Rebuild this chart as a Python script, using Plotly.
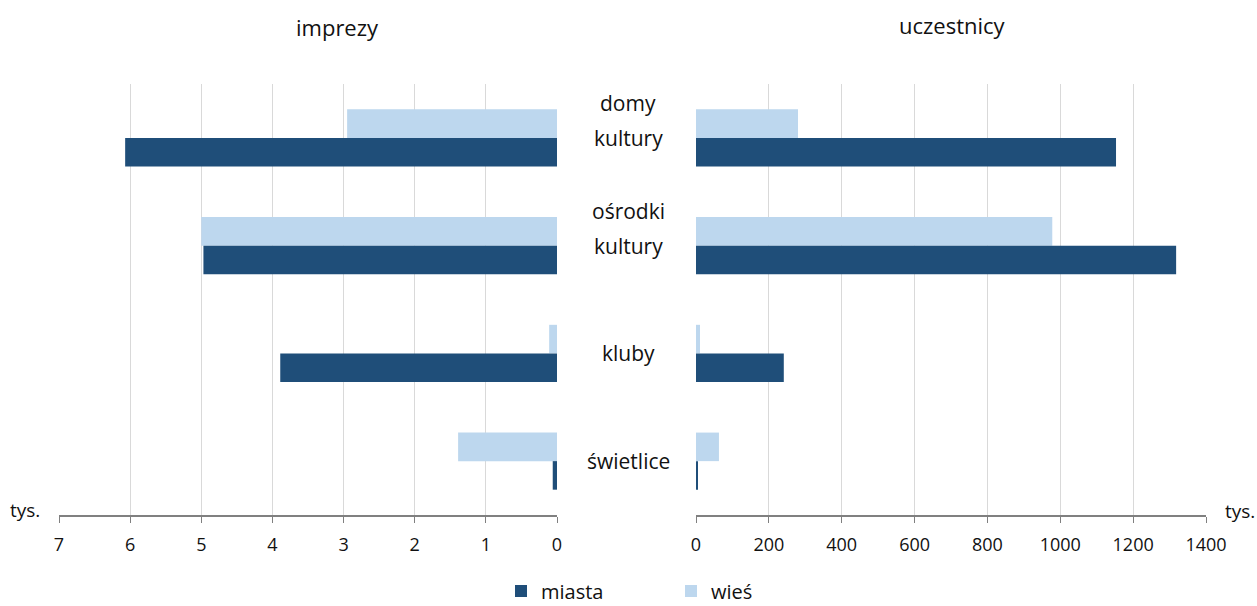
import plotly.graph_objects as go

categories = ["domy<br>kultury", "ośrodki<br>kultury", "kluby", "świetlice"]
series_names = ["miasta", "wieś"]
imprezy_miasta = [6.07, 4.97, 3.89, 0.06]
imprezy_wies = [2.95, 5.0, 0.11, 1.39]
uczestnicy_miasta = [1153, 1318, 241, 5]
uczestnicy_wies = [280, 978, 11, 63]
left_ticks = [7, 6, 5, 4, 3, 2, 1, 0]
right_ticks = [0, 200, 400, 600, 800, 1000, 1200, 1400]
panel_titles = ["imprezy", "uczestnicy"]
unit_label = "tys."

C_MIASTA = "#1F4E79"
C_WIES = "#BDD7EE"
FONT = "Open Sans"
TXT = "#111111"
W, H = 1257, 606

fig = go.Figure()
# wieś first so that it sits above miasta within each group (reversed y axis)
fig.add_trace(go.Bar(y=categories, x=imprezy_wies, orientation="h", name=series_names[1],
                     marker_color=C_WIES, xaxis="x", yaxis="y", legendrank=2))
fig.add_trace(go.Bar(y=categories, x=imprezy_miasta, orientation="h", name=series_names[0],
                     marker_color=C_MIASTA, xaxis="x", yaxis="y", legendrank=1))
fig.add_trace(go.Bar(y=categories, x=uczestnicy_wies, orientation="h", name=series_names[1],
                     marker_color=C_WIES, xaxis="x2", yaxis="y2", showlegend=False))
fig.add_trace(go.Bar(y=categories, x=uczestnicy_miasta, orientation="h", name=series_names[0],
                     marker_color=C_MIASTA, xaxis="x2", yaxis="y2", showlegend=False))

ydom = [(H - 515) / H, (H - 84) / H]
axis_common = dict(
    showgrid=True, gridcolor="#D9D9D9", gridwidth=1.3,
    showline=True, linecolor="#808080", linewidth=1.5,
    ticks="outside", ticklen=6, tickcolor="#808080", tickwidth=1.3,
    tickfont=dict(family=FONT, size=18, color=TXT), ticklabelstandoff=7,
    zeroline=False, fixedrange=True, automargin=False,
)
yaxis_common = dict(domain=ydom, autorange="reversed", showticklabels=False, showgrid=False,
                    showline=False, ticks="", fixedrange=True, automargin=False)
fig.update_layout(
    template="none",
    autosize=True,
    margin=dict(l=0, r=0, t=0, b=0, pad=0, autoexpand=False),
    paper_bgcolor="white", plot_bgcolor="white",
    barmode="group", bargap=0.47, bargroupgap=0,
    font=dict(family=FONT, size=18, color=TXT),
    xaxis=dict(domain=[59 / W, 557 / W], range=[7, 0], tickvals=left_ticks,
               anchor="y", **axis_common),
    xaxis2=dict(domain=[696 / W, 1206 / W], range=[0, 1400], tickvals=right_ticks,
                anchor="y2", **axis_common),
    yaxis=dict(anchor="x", **yaxis_common),
    yaxis2=dict(anchor="x2", matches="y", **yaxis_common),
    legend=dict(orientation="h", x=501 / W, xanchor="left", y=(H - 591) / H, yanchor="middle",
                font=dict(family=FONT, size=20, color=TXT), entrywidth=125,
                itemwidth=30, bgcolor="rgba(0,0,0,0)", borderwidth=0),
)

annotations = []
def txt(text, x, y, size, **kw):
    d = dict(text=text, x=x, y=y, showarrow=False, xanchor="center", yanchor="middle",
             font=dict(family=FONT, size=size, color=TXT))
    d.update(kw)
    return d

annotations.append(txt(panel_titles[0], 338 / W, (H - 27) / H, 22, xref="paper", yref="paper"))
annotations.append(txt(panel_titles[1], 952 / W, (H - 25) / H, 22, xref="paper", yref="paper"))
annotations.append(txt(unit_label, 25 / W, (H - 510) / H, 19, xref="paper", yref="paper"))
annotations.append(txt(unit_label, 1240 / W, (H - 511) / H, 19, xref="paper", yref="paper"))
for cat in categories:
    lines = cat.split("<br>")
    n = len(lines)
    for i, ln in enumerate(lines):
        annotations.append(txt(ln, 628 / W, cat, 21, xref="paper", yref="y",
                               yshift=(n - 1 - i) * 35))
fig.update_layout(annotations=annotations)

post = (
    "document.documentElement.style.height='100%';"
    "document.documentElement.style.margin='0';"
    "document.body.style.height='100%';"
    "document.body.style.margin='0';"
    "document.body.style.padding='0';"
    "document.body.style.overflow='hidden';"
    "var gd=document.getElementById('{plot_id}');"
    "gd.style.width='100vw';gd.style.height='100vh';"
    "Plotly.Plots.resize(gd);"
)
fig.write_html(
    "out.html",
    default_width="100%", default_height="100%",
    config={"displayModeBar": False, "responsive": True},
    post_script=post,
)
